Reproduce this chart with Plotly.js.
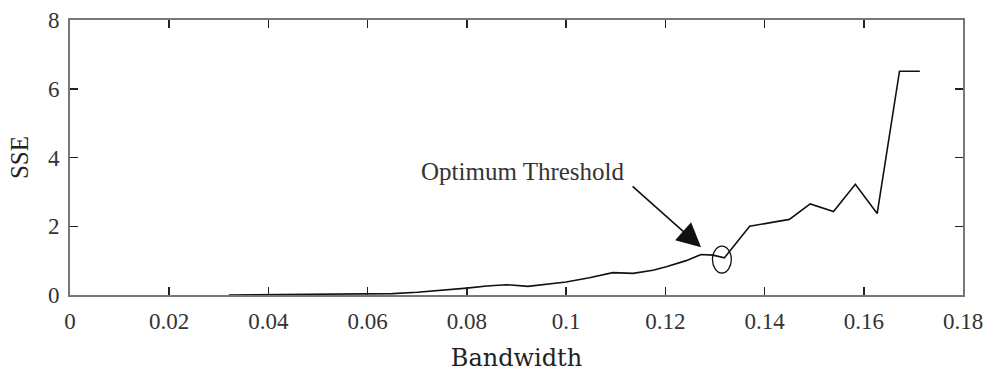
<!DOCTYPE html>
<html>
<head>
<meta charset="utf-8">
<script src="https://cdn.plot.ly/plotly-3.0.1.min.js"></script>
<style>
html,body{margin:0;padding:0;background:#fff;}
#chart{width:989px;height:372px;}
</style>
</head>
<body>
<div id="chart"></div>
<script>
// Data
const bandwidth = [0.032, 0.04, 0.05, 0.06, 0.065, 0.07, 0.075, 0.08, 0.084, 0.088, 0.0923, 0.096, 0.1, 0.1047, 0.1094, 0.1135, 0.1175, 0.1202, 0.1242, 0.1272, 0.1296, 0.1319, 0.137, 0.145, 0.1492, 0.1539, 0.1583, 0.1627, 0.1672, 0.1713];
const sse = [0, 0.005, 0.01, 0.02, 0.04, 0.08, 0.13, 0.2, 0.26, 0.3, 0.25, 0.32, 0.38, 0.5, 0.65, 0.63, 0.72, 0.82, 1.0, 1.18, 1.16, 1.08, 2.0, 2.2, 2.65, 2.43, 3.22, 2.37, 6.51, 6.51];
const xTicks = [0, 0.02, 0.04, 0.06, 0.08, 0.1, 0.12, 0.14, 0.16, 0.18];
const xTickText = ['0', '0.02', '0.04', '0.06', '0.08', '0.1', '0.12', '0.14', '0.16', '0.18'];
const yTicks = [0, 2, 4, 6, 8];
const annotationText = 'Optimum Threshold';
const optimumX = 0.1314;
const optimumY = 1.03;

const serif = 'Liberation Serif, Times New Roman, serif';
const axisCommon = {
  showline: true,
  linecolor: '#777',
  linewidth: 2,
  mirror: 'ticks',
  ticks: 'inside',
  ticklen: 8,
  tickwidth: 1.5,
  tickcolor: '#222',
  showgrid: false,
  zeroline: false,
  tickfont: {family: serif, size: 23, color: '#333'}
};

const trace = {
  x: bandwidth,
  y: sse,
  type: 'scatter',
  mode: 'lines',
  line: {color: '#111', width: 1.6},
  hoverinfo: 'skip'
};

const layout = {
  width: 989,
  height: 372,
  margin: {l: 70, r: 26, t: 20, b: 77},
  paper_bgcolor: '#fff',
  plot_bgcolor: '#fff',
  showlegend: false,
  xaxis: Object.assign({}, axisCommon, {
    range: [0, 0.18],
    tickvals: xTicks,
    ticktext: xTickText,
    ticklabelstandoff: 4,
    title: {text: 'Bandwidth', font: {family: 'DejaVu Serif, serif', size: 24, color: '#222'}, standoff: 18}
  }),
  yaxis: Object.assign({}, axisCommon, {
    range: [0, 8],
    tickvals: yTicks,
    ticklabelstandoff: 4,
    title: {text: 'SSE', font: {family: serif, size: 25, color: '#222'}, standoff: 12}
  }),
  shapes: [{
    type: 'circle', xref: 'x', yref: 'y',
    x0: optimumX - 0.0019, x1: optimumX + 0.0019,
    y0: optimumY - 0.39, y1: optimumY + 0.39,
    line: {color: '#111', width: 1.3}
  }],
  annotations: [
    {
      xref: 'x', yref: 'y', axref: 'x', ayref: 'y',
      x: 0.1272, y: 1.39, ax: 0.1131, ay: 3.2,
      text: '', showarrow: true,
      arrowhead: 2, arrowsize: 3, arrowwidth: 1.6, arrowcolor: '#111'
    },
    {
      xref: 'x', yref: 'y', x: 0.0914, y: 3.6,
      text: annotationText, showarrow: false,
      font: {family: serif, size: 25, color: '#333'}
    }
  ]
};

Plotly.newPlot('chart', [trace], layout, {displayModeBar: false, staticPlot: true});
</script>
</body>
</html>
